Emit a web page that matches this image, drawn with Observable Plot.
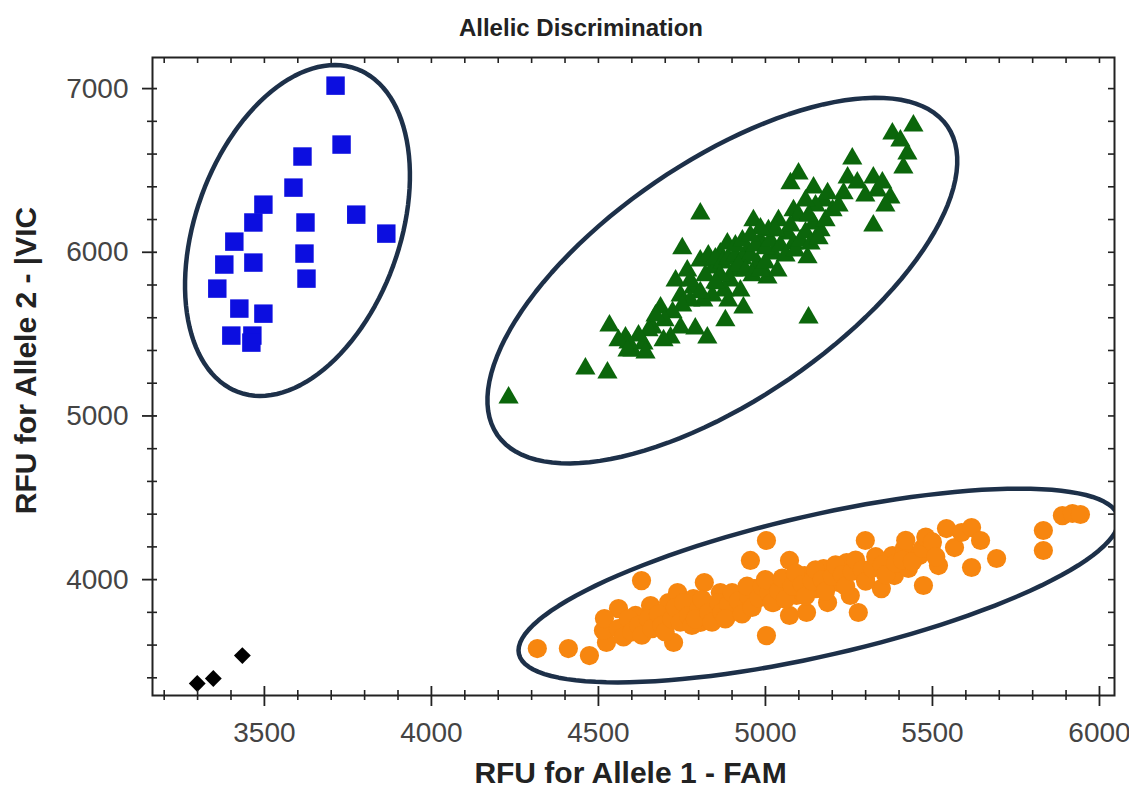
<!DOCTYPE html>
<html>
<head>
<meta charset="utf-8">
<script src="https://cdn.jsdelivr.net/npm/d3@7"></script>
<script src="https://cdn.jsdelivr.net/npm/@observablehq/plot@0.6"></script>
<style>
  body { margin: 0; background: #fff; }
  #title { width: 1129px; height: 48px; box-sizing: border-box; padding-left: 33px; overflow: visible;
           text-align: center; font: bold 24px Arial, "Liberation Sans", sans-serif; line-height: 56px; color: #222; }
</style>
</head>
<body>
<div id="title">Allelic Discrimination</div>
<div id="chart"></div>
<script>
// ---- data (RFU values) ----
const titleText = "Allelic Discrimination";
const xTitle = "RFU for Allele 1 - FAM";
const yTitle = "RFU for Allele 2 - |VIC";

const xMajor = [3500, 4000, 4500, 5000, 5500, 6000];
const xMinor = [3200, 3300, 3400, 3600, 3700, 3800, 3900, 4100, 4200, 4300, 4400, 4600, 4700, 4800, 4900, 5100, 5200, 5300, 5400, 5600, 5700, 5800, 5900];
const yMajor = [4000, 5000, 6000, 7000];
const yMinor = [3400, 3600, 3800, 4200, 4400, 4600, 4800, 5200, 5400, 5600, 5800, 6200, 6400, 6600, 6800];

// Allele 2 (VIC) homozygotes – blue squares
const vicX = [3713, 3731, 3614, 3587, 3497, 3467, 3623, 3775, 3865, 3410, 3380, 3467, 3620, 3626, 3359, 3425, 3497, 3401, 3464, 3461];
const vicY = [7018, 6658, 6585, 6395, 6291, 6182, 6182, 6230, 6114, 6065, 5925, 5937, 5992, 5839, 5778, 5656, 5625, 5491, 5491, 5448];

// Heterozygotes – green triangles
const hetX = [4231,4461,4527,4533,4581,4602,4635,4662,4686,4716,4731,4746,4751,4766,4784,4790,4805,4814,4826,4844,
  4856,4865,4880,4886,4904,4925,4934,4946,4964,4976,4985,5006,5024,5036,5039,5066,5084,5084,5075,5099,
  5126,5129,5144,5144,5165,5174,5186,5234,5246,5260,5275,5323,5323,5335,5350,5374,5380,5404,5425,5413,5443,
  4805,4829,4850,4871,4889,4910,4931,4955,4919,4940,4961,4985,5000,4895,4877,4841,4805,4775,4751,4722,
  4698,4671,4650,4620,4590,4560,4775,4820,4865,4910,4931,4970,5000,5015,5045,5060,5090,5105,5120,5135,
  5159,5180,5201,5219,5150,5120,5099,5075,5129,5009,5030,4985,4955,4850,4889,5299,5359,4587,4641,4746,4695];
const hetY = [5112,5289,5265,5552,5479,5399,5442,5540,5662,5479,5827,5735,6023,5888,5784,5534,6236,5705,5479,5906,
  5809,5992,5583,6053,5888,5766,5662,6010,6194,5931,6071,5845,5992,5888,6194,6114,6255,6053,6420,6481,
  5968,5601,6395,6175,6133,6316,6359,6359,6456,6572,6426,6456,6163,6377,6426,6334,6725,6682,6603,6517,6774,
  5949,5980,5961,5937,5961,5980,5961,5980,5919,5888,5858,5888,5937,5827,5766,5735,5754,5705,5674,5632,
  5583,5613,5522,5491,5448,5461,5827,5858,5858,6041,6071,6041,6023,6071,6041,5980,6010,6071,6120,6053,
  6084,6194,6255,6285,6285,6316,6224,6163,6224,6133,6133,6145,6102,5815,5705,6346,6285,5399,5387,5540,5461];

// Allele 1 (FAM) homozygotes – orange circles
const famX = [4317,4410,4473,4524,4515,4560,4518,4599,4611,4629,4656,4692,4710,4725,4737,4760,4784,4805,4817,4841,
  4865,4886,4910,4934,4955,4967,5003,5003,5024,5048,5072,5072,5093,5117,5123,5150,5174,5186,5219,5243,
  5254,5278,5299,5299,5335,5347,5380,5386,5416,5428,5461,5473,5497,5518,5542,5566,5587,5617,5617,5644,
  5692,5832,5832,5889,5919,5943,
  4560,4575,4590,4600,4620,4630,4650,4660,4680,4690,4700,4720,4730,4745,4755,4770,4780,4800,4810,4790,
  4830,4840,4860,4870,4890,4900,4880,4920,4930,4950,4960,4945,4980,4990,5010,5020,5000,5040,5050,5060,
  5080,5090,5110,5120,5140,5150,5170,5180,5200,5210,5230,5240,5260,5270,5290,5300,5320,5330,5350,5360,
  5390,5410,5420,5440,5470,5480,5500,5510];
const famY = [3579,3579,3536,3616,3689,3823,3762,3701,3781,3994,3842,3781,3860,3616,3921,3799,3884,3738,3982,3842,
  3921,3781,3884,3823,4117,3945,4239,3658,3860,3964,4117,3781,3903,4025,3799,3945,4068,3860,3982,4104,
  3903,3799,4239,4007,4104,3945,4147,4025,4190,4068,4147,3964,4208,4086,4312,4196,4288,4318,4074,4239,
  4129,4300,4178,4391,4404,4398,
  3700,3650,3760,3680,3720,3660,3760,3700,3790,3720,3680,3760,3830,3740,3860,3780,3720,3820,3880,3760,
  3800,3740,3860,3800,3850,3920,3760,3870,3790,3900,3830,3960,3890,3960,3920,3860,4000,3930,4010,3880,
  3960,4040,3970,3900,3990,4060,4000,3930,4020,4090,4030,3960,4050,4120,4060,3990,4070,4140,4090,4030,
  4100,4120,4240,4110,4190,4260,4230,4140];

// No-template controls – black diamonds
const ntcX = [3299, 3347, 3434];
const ntcY = [3365, 3396, 3536];

// cluster ellipses (centre and two conjugate half-axis vectors, RFU units)
const ellCX = [3599, 4871, 5159];
const ellCY = [6133, 5827, 3964];
const ellUX = [176, 674, 897];
const ellUY = [988, 942, 419];
const ellVX = [287, 201, 47];
const ellVY = [-213, -600, -418];

// ---- build ----
const W = 1129, H = 745;
const mL = 152, mR = 15, mT = 9, mB = 98;
const FW = W - mL - mR, FH = H - mT - mB;

const zip = (xs, ys) => xs.map((x, i) => ({x, y: ys[i]}));
const vic = zip(vicX, vicY), het = zip(hetX, hetY), fam = zip(famX, famY), ntc = zip(ntcX, ntcY);

const ellipses = ellCX.map((cx, k) => d3.range(0, 121).map(i => {
  const t = i / 120 * 2 * Math.PI;
  return {x: cx + ellUX[k] * Math.cos(t) + ellVX[k] * Math.sin(t),
          y: ellCY[k] + ellUY[k] * Math.cos(t) + ellVY[k] * Math.sin(t)};
}));

const diamond2 = {draw(ctx, size) { const r = Math.sqrt(size) * 0.62625;
  ctx.moveTo(0, -r); ctx.lineTo(r, 0); ctx.lineTo(0, r); ctx.lineTo(-r, 0); ctx.closePath(); }};

const ink = "#222";
const chart = Plot.plot({
  width: W, height: H,
  marginLeft: mL, marginRight: mR, marginTop: mT, marginBottom: mB,
  x: {domain: [3165, 6045], axis: null},
  y: {domain: [3292, 7190], axis: null},
  style: {fontFamily: "Arial, 'Liberation Sans', sans-serif", background: "#fff", overflow: "visible"},
  marks: [
    Plot.dot(fam, {x: "x", y: "y", symbol: "circle", r: 9.6, fill: "#f7860f"}),
    Plot.dot(het, {x: "x", y: "y", symbol: "triangle", r: 7.5, fill: "#0b660b"}),
    Plot.dot(vic, {x: "x", y: "y", symbol: "square", r: 10.4, fill: "#0c0ee0"}),
    Plot.dot(ntc, {x: "x", y: "y", symbol: diamond2, r: 7.6, fill: "#000"}),
    ...ellipses.map(e => Plot.line(e, {x: "x", y: "y", curve: "linear-closed", stroke: "#1d3049", strokeWidth: 4.5, clip: true})),
    Plot.frame({stroke: ink, strokeWidth: 2}),
    Plot.tickX(xMajor, {x: d => d, insetTop: FH - 9, insetBottom: -11, stroke: ink, strokeWidth: 1.8}),
    Plot.tickX(xMinor, {x: d => d, insetTop: FH - 5, insetBottom: -5, stroke: ink, strokeWidth: 1.6}),
    Plot.tickX(xMajor.concat(xMinor), {x: d => d, insetBottom: FH - 6, stroke: ink, strokeWidth: 1.6}),
    Plot.tickY(yMajor, {y: d => d, insetLeft: -10, insetRight: FW - 5, stroke: ink, strokeWidth: 1.8}),
    Plot.tickY(yMinor, {y: d => d, insetLeft: -5, insetRight: FW - 5, stroke: ink, strokeWidth: 1.6}),
    Plot.tickY(yMajor.concat(yMinor), {y: d => d, insetLeft: FW - 6, stroke: ink, strokeWidth: 1.6}),
    Plot.text(xMajor, {x: d => d, text: d => String(d), frameAnchor: "bottom", lineAnchor: "middle", textAnchor: "middle", dy: 38, fontSize: 28, fill: "#444"}),
    Plot.text(yMajor, {y: d => d, text: d => String(d), frameAnchor: "left", lineAnchor: "middle", textAnchor: "end", dx: -24, fontSize: 28, fill: "#444"}),
    Plot.text([xTitle], {frameAnchor: "bottom", lineAnchor: "middle", textAnchor: "middle", dx: -3, dy: 78, fontSize: 30, fontWeight: "bold", fill: ink}),
    Plot.text([yTitle], {frameAnchor: "left", lineAnchor: "middle", textAnchor: "middle", dx: -126, dy: -16, rotate: -90, fontSize: 30, fontWeight: "bold", fill: ink})
  ]
});
document.getElementById("title").textContent = titleText;
document.getElementById("chart").appendChild(chart);
</script>
</body>
</html>
